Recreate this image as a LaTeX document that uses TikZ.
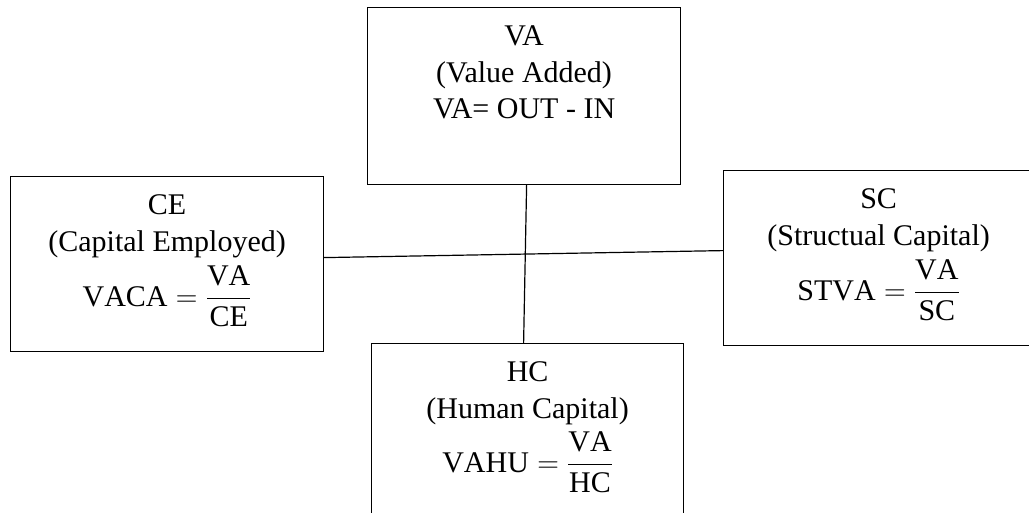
\RequirePackage{fix-cm}
\documentclass[tikz,border=0pt]{standalone}
\usepackage{fontspec}
\setmainfont{Liberation Serif}
\setmathrm{Liberation Serif}
\newcommand{\boxtext}[3]{\parbox[t][#1][t]{#2}{\centering\rule{0pt}{38pt}#3}}
\tikzset{
  box/.style={draw, line width=1.2pt, inner sep=0pt, anchor=north west,
    font=\fontsize{30}{37}\selectfont},
  link/.style={line width=1.2pt}
}
\begin{document}
\begin{tikzpicture}[x=1pt,y=-1pt]
\useasboundingbox (0,0) rectangle (1029,513);
\fill[white] (0,0) rectangle (1029,513);
\clip (0,0) rectangle (1029,513);
\node[box] (va) at (367,7) {\boxtext{177pt}{313pt}{VA\\(Value Added)\\[-1pt]VA= OUT - IN}};
\node[box] (ce) at (10,176) {\boxtext{175pt}{313pt}{CE\\(Capital Employed)\\[7pt]$\displaystyle \mathrm{VACA}=\frac{\mathrm{VA}}{\mathrm{CE}}$}};
\node[box] (sc) at (723,170) {\boxtext{175pt}{310pt}{SC\\(Structual Capital)\\[7pt]$\displaystyle \mathrm{STVA}=\frac{\mathrm{VA}}{\mathrm{SC}}$}};
\node[box] (hc) at (371,343) {\boxtext{178pt}{312pt}{HC\\(Human Capital)\\[6pt]$\displaystyle \mathrm{VAHU}=\frac{\mathrm{VA}}{\mathrm{HC}}$}};
\draw[link] ([yshift=6.5pt]ce.east) -- ([yshift=7.5pt]sc.west);
\draw[link] ([xshift=2.5pt]va.south) -- ([xshift=-4pt]hc.north);
\end{tikzpicture}
\end{document}
